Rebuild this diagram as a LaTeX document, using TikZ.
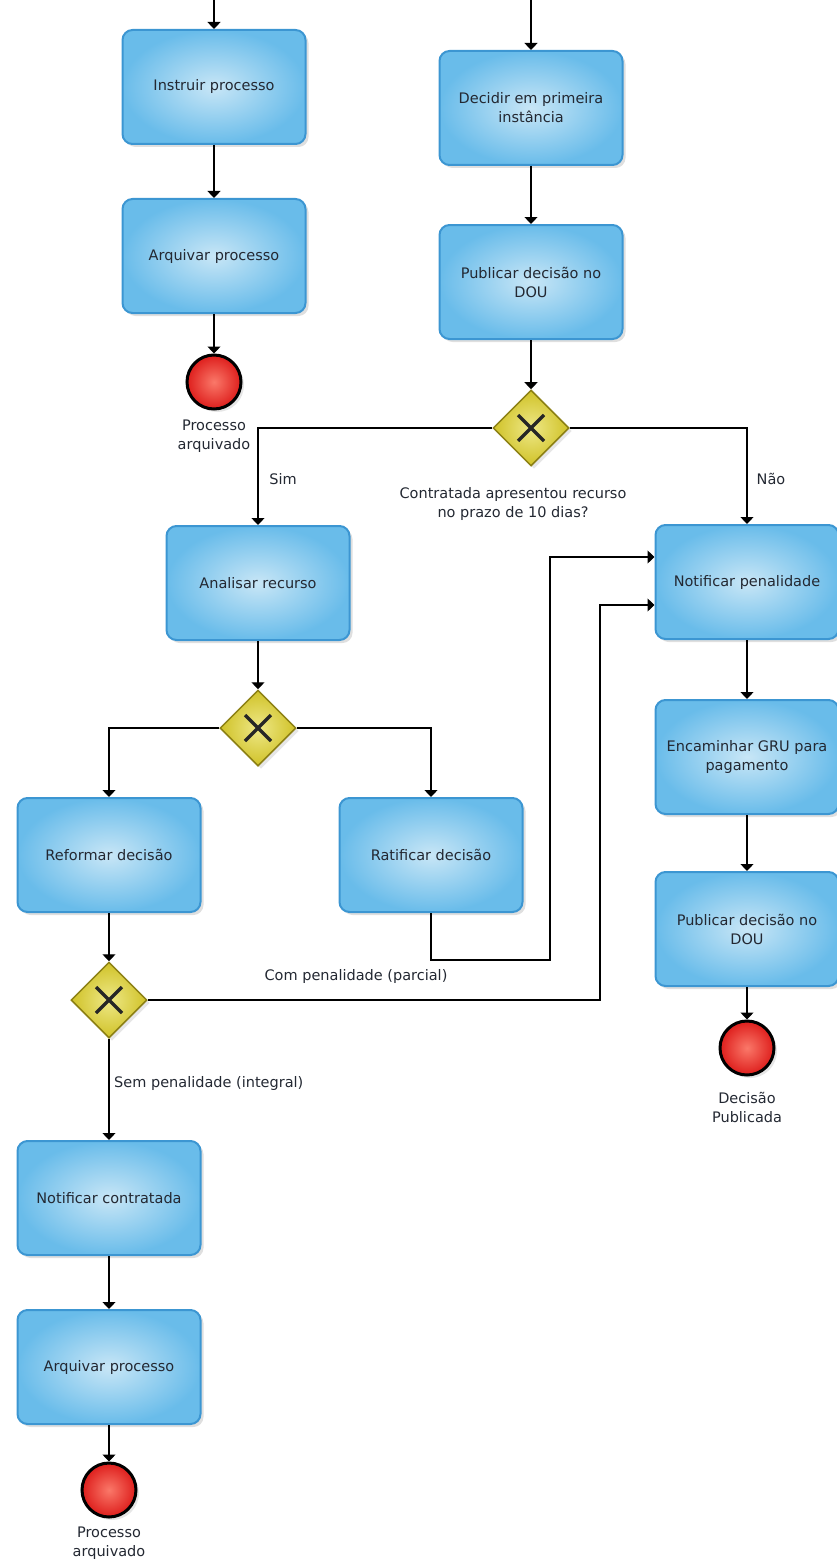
\documentclass[tikz,border=0pt]{standalone}
\usepackage{fontspec}
\setmainfont{DejaVu Sans}
\usetikzlibrary{positioning, arrows.meta, shapes.geometric, shadows}

\definecolor{taskin}{RGB}{200,230,246}
\definecolor{taskout}{RGB}{105,188,234}
\definecolor{taskedge}{RGB}{60,150,210}
\definecolor{gwin}{RGB}{238,232,135}
\definecolor{gwout}{RGB}{208,194,40}
\definecolor{gwedge}{RGB}{140,128,20}
\definecolor{endin}{RGB}{250,120,105}
\definecolor{endout}{RGB}{222,30,28}
\definecolor{txt}{RGB}{35,40,50}

\begin{document}
\begin{tikzpicture}[
          x=1pt, y=-1pt,
          font=\fontsize{14.5}{19}\selectfont,
          task/.style={rectangle, rounded corners=10pt, draw=taskedge, line width=2pt,
                       inner color=taskin, outer color=taskout,
                       minimum width=183pt, minimum height=114pt, align=center, text=txt,
                       drop shadow={opacity=0.25, shadow xshift=3pt, shadow yshift=-3pt}},
          gateway/.style={diamond, draw=gwedge, line width=1.5pt, aspect=1,
                          inner color=gwin, outer color=gwout,
                          minimum size=76pt, inner sep=0pt,
                          drop shadow={opacity=0.2, shadow xshift=3pt, shadow yshift=-3pt},
                          path picture={
                            \draw[line width=3.5pt, black!85]
                              ([shift={(-13pt,-13pt)}]path picture bounding box.center) --
                              ([shift={(13pt,13pt)}]path picture bounding box.center)
                              ([shift={(-13pt,13pt)}]path picture bounding box.center) --
                              ([shift={(13pt,-13pt)}]path picture bounding box.center);}},
          endevent/.style={circle, draw=black, line width=3pt, inner color=endin, outer color=endout,
                           minimum size=54pt, inner sep=0pt,
                           drop shadow={opacity=0.2, shadow xshift=3pt, shadow yshift=-3pt}},
          caption/.style={align=center, text=txt, inner sep=0pt},
          flow/.style={line width=1.2pt, -{Triangle[length=7pt, width=13pt]}},
          line/.style={line width=1.2pt}
      ]
      \useasboundingbox (0,0) rectangle (837,1565);

      % top left
      \coordinate (startA) at (214,0);
      \node[task] (instruir) at (214,87) {Instruir processo};
      \node[task] (arquivarA) at (214,256) {Arquivar processo};
      \node[endevent] (fimA) at (214,382) {};
      \node[caption] (fimAtxt) at (214,436) {Processo\\arquivado};

      % top right
      \coordinate (startB) at (531,0);
      \node[task] (decidir) at (531,108) {Decidir em primeira\\instância};
      \node[task] (publicarA) at (531,282) {Publicar decisão no\\DOU};
      \node[gateway] (gwA) at (531,428) {};
      \node[caption] (gwAtxt) at (513,504) {Contratada apresentou recurso\\no prazo de 10 dias?};
      \node[caption] (sim) at (283,479) {Sim};
      \node[caption] (nao) at (771,479) {Não};

      % recurso
      \node[task] (analisar) at (258,583) {Analisar recurso};
      \node[gateway] (gwB) at (258,728) {};
      \node[task] (reformar) at (109,855) {Reformar decisão};
      \node[task] (ratificar) at (431,855) {Ratificar decisão};
      \node[gateway] (gwC) at (109,1000) {};
      \node[caption] (comtxt) at (356,976) {Com penalidade (parcial)};
      \node[caption, anchor=west] (semtxt) at (114,1083) {Sem penalidade (integral)};
      \node[task] (notcontr) at (109,1198) {Notificar contratada};
      \node[task] (arquivarB) at (109,1367) {Arquivar processo};
      \node[endevent] (fimB) at (109,1490) {};
      \node[caption] (fimBtxt) at (109,1543) {Processo\\arquivado};

      % penalidade
      \node[task] (notpen) at (747,582) {Notificar penalidade};
      \node[task] (encaminhar) at (747,757) {Encaminhar GRU para\\pagamento};
      \node[task] (publicarB) at (747,929) {Publicar decisão no\\DOU};
      \node[endevent] (fimC) at (747,1048) {};
      \node[caption] (fimCtxt) at (747,1107) {Decisão\\Publicada};

      \coordinate (kneeA) at (550,960);
      \coordinate (kneeB) at (600,1000);

      \foreach \a/\b in {startA/instruir, instruir/arquivarA, arquivarA/fimA,
                         startB/decidir, decidir/publicarA, publicarA/gwA,
                         analisar/gwB, reformar/gwC, gwC/notcontr, notcontr/arquivarB, arquivarB/fimB,
                         notpen/encaminhar, encaminhar/publicarB, publicarB/fimC} {
          \draw[flow] (\a) -- (\b);
      }

      \draw[flow] (gwA.west) -| (analisar.north);
      \draw[flow] (gwA.east) -| (notpen.north);
      \draw[flow] (gwB.west) -| (reformar.north);
      \draw[flow] (gwB.east) -| (ratificar.north);
      \draw[flow] (ratificar.south) |- (kneeA) |- ([yshift=25pt]notpen.west);
      \draw[flow] (gwC.east) -- (kneeB) |- ([yshift=-23pt]notpen.west);

      \end{tikzpicture}
\end{document}
